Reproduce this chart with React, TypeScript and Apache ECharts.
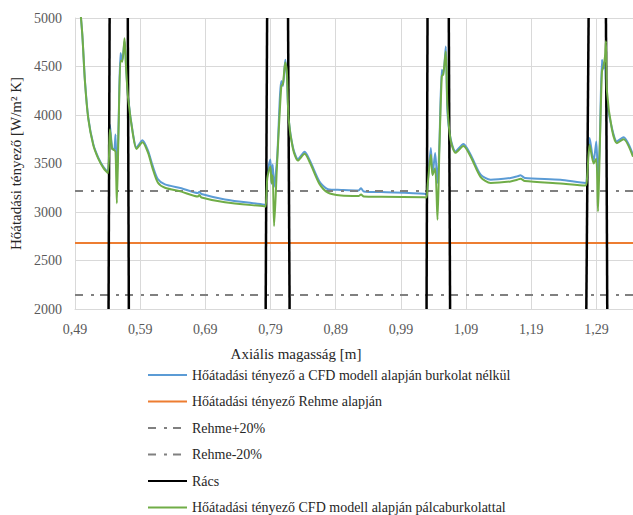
import React, { useEffect, useRef } from "react";
import * as echarts from "echarts";

const xMin = 0.49;
const xMax = 1.346;
const yMin = 2000;
const yMax = 5000;

// Axial positions [m]
const cfdX = [
  0.49, 0.496, 0.5012, 0.5053, 0.5104, 0.518, 0.5257, 0.5335, 0.5405, 0.5435, 0.547, 0.55, 0.5522, 0.5542,
  0.557, 0.5598, 0.5625, 0.566, 0.5685, 0.5715, 0.5791, 0.5843, 0.5935, 0.6021, 0.609, 0.617, 0.628,
  0.6532, 0.6786, 0.6807, 0.684, 0.72, 0.7805,
  0.7825, 0.785, 0.7897, 0.7915, 0.7933, 0.7954, 0.8, 0.8065, 0.809, 0.8126, 0.815, 0.8177, 0.8244, 0.832,
  0.8422, 0.851, 0.865, 0.8779, 0.8983, 0.925, 0.9288, 0.933, 0.96, 1.0256, 1.0293,
  1.031, 1.0359, 1.0385, 1.0425, 1.0461, 1.049, 1.0527, 1.055, 1.0588, 1.0613, 1.066, 1.0737, 1.0858,
  1.097, 1.1123, 1.1276, 1.1582, 1.1684, 1.1735, 1.18, 1.2347, 1.2729,
  1.2755, 1.2795, 1.2856, 1.2897, 1.2923, 1.295, 1.2984, 1.3005, 1.303, 1.3045, 1.306, 1.3137, 1.3213,
  1.3315, 1.346,
];

// Heat transfer coefficient, CFD without cladding [W/m2K]
const cfdNoCladding = [
  5700, 5250, 4830, 4350, 3970, 3700, 3560, 3465, 3410, 3900, 3660, 3640, 3800, 3320,
  3950, 4640, 4560, 4760, 4480, 4180, 3800, 3665, 3740, 3630, 3480, 3340, 3285,
  3245, 3195, 3208, 3185, 3130, 3075,
  3070, 3400, 3540, 3290, 3490, 3260, 3550, 4350, 4300, 4570, 4400, 3970, 3665, 3545,
  3620, 3520, 3315, 3235, 3228, 3222, 3245, 3212, 3205, 3189, 3182,
  3300, 3660, 3385, 3608, 3300, 3700, 4467, 4420, 4707, 4040, 3763, 3625, 3701,
  3591, 3385, 3333, 3351, 3367, 3378, 3351, 3333, 3299,
  3400, 3763, 3522, 3728, 3350, 3700, 4570, 4480, 4520, 4300, 4140, 3866, 3728,
  3770, 3591,
];

// Heat transfer coefficient, CFD with rod cladding [W/m2K]
const cfdRodCladding = [
  5700, 5250, 4830, 4340, 3960, 3690, 3550, 3455, 3400, 3850, 3650, 3640, 3620, 3090,
  3900, 4560, 4550, 4790, 4470, 4170, 3790, 3650, 3720, 3610, 3450, 3305, 3250,
  3210, 3160, 3175, 3150, 3100, 3058,
  3055, 3350, 3470, 3300, 3380, 2855, 3500, 4300, 4320, 4540, 4450, 3960, 3650, 3530,
  3600, 3500, 3290, 3200, 3170, 3165, 3180, 3160, 3157, 3151, 3150,
  3280, 3590, 3380, 3450, 2920, 3650, 4400, 4420, 4655, 4100, 3750, 3610, 3680,
  3570, 3360, 3300, 3315, 3333, 3342, 3320, 3295, 3274,
  3350, 3694, 3500, 3550, 3006, 3650, 4450, 4500, 4600, 4760, 4250, 3850, 3710,
  3750, 3570,
];

const rehmeValue = 2680;
const rehmeFactors = [1.2, 0.8];

// Spacer grid ("Rács") edges, bottom and top x positions
const spacerBottomX = [0.5415, 0.5726, 0.7825, 0.8192, 1.0293, 1.0654, 1.2744, 1.3065];
const spacerTopX = [0.5431, 0.571, 0.7847, 0.8168, 1.0308, 1.0634, 1.2779, 1.3045];

const names = [
  "Hőátadási tényező a CFD modell alapján burkolat nélkül",
  "Hőátadási tényező Rehme alapján",
  "Rehme+20%",
  "Rehme-20%",
  "Rács",
  "Hőátadási tényező CFD modell alapján pálcaburkolattal",
];

const FONT = "Liberation Serif";

export default function App() {
  const ref = useRef<HTMLDivElement>(null);
  useEffect(() => {
    if (!ref.current) return;
    const chart = echarts.init(ref.current, null, { renderer: "svg" });
    const zip = (ys: number[]) => cfdX.map((x, i) => [x, ys[i]]);
    const flat = (v: number) => [
      [xMin, v],
      [xMax, v],
    ];
    const dashDot = [8, 8, 3, 6];
    const series: any[] = [
      {
        name: names[0],
        type: "line",
        data: zip(cfdNoCladding),
        symbol: "none",
        smooth: 0.25,
        lineStyle: { color: "#5B9BD5", width: 2 },
        itemStyle: { color: "#5B9BD5" },
      },
      {
        name: names[1],
        type: "line",
        data: flat(rehmeValue),
        symbol: "none",
        lineStyle: { color: "#ED7D31", width: 2 },
        itemStyle: { color: "#ED7D31" },
      },
      {
        name: names[2],
        type: "line",
        data: flat(rehmeValue * rehmeFactors[0]),
        symbol: "none",
        lineStyle: { color: "#808080", width: 2, type: dashDot },
        itemStyle: { color: "#808080" },
      },
      {
        name: names[3],
        type: "line",
        data: flat(rehmeValue * rehmeFactors[1]),
        symbol: "none",
        lineStyle: { color: "#808080", width: 2, type: dashDot },
        itemStyle: { color: "#808080" },
      },
    ];
    spacerBottomX.forEach((xb, i) => {
      series.push({
        name: names[4],
        type: "line",
        data: [
          [xb, yMin],
          [spacerTopX[i], yMax],
        ],
        symbol: "none",
        lineStyle: { color: "#000000", width: 2.5 },
        itemStyle: { color: "#000000" },
      });
    });
    series.push({
      name: names[5],
      type: "line",
      data: zip(cfdRodCladding),
      symbol: "none",
      smooth: 0.25,
      lineStyle: { color: "#70AD47", width: 2 },
      itemStyle: { color: "#70AD47" },
    });

    chart.setOption({
      animation: false,
      textStyle: { fontFamily: FONT },
      grid: { left: 73, top: 18, right: 0, bottom: 206, containLabel: false },
      xAxis: {
        type: "value",
        min: xMin,
        max: xMax,
        interval: 0.1,
        axisLine: { show: true, lineStyle: { color: "#D9D9D9", width: 1 } },
        axisTick: { show: false },
        splitLine: { show: true, lineStyle: { color: "#D9D9D9", width: 1 } },
        axisLabel: {
          color: "#595959",
          fontFamily: FONT,
          fontSize: 14,
          margin: 13,
          showMaxLabel: false,
          formatter: (v: number) => v.toFixed(2).replace(".", ","),
        },
      },
      yAxis: {
        type: "value",
        min: yMin,
        max: yMax,
        interval: 500,
        name: "Hőátadási tényező [W/m² K]",
        nameLocation: "middle",
        nameGap: 52,
        nameRotate: 90,
        nameTextStyle: { color: "#262626", fontFamily: FONT, fontSize: 15 },
        axisLine: { show: true, lineStyle: { color: "#D9D9D9", width: 1 } },
        axisTick: { show: false },
        splitLine: { show: true, lineStyle: { color: "#D9D9D9", width: 1 } },
        axisLabel: {
          color: "#595959",
          fontFamily: FONT,
          fontSize: 14,
          margin: 13,
          formatter: (v: number) => String(v),
        },
      },
      legend: {
        data: names,
        orient: "vertical",
        left: 147,
        top: 368,
        height: 200,
        padding: 0,
        itemWidth: 39,
        itemHeight: 14,
        itemGap: 12.5,
        itemStyle: { opacity: 0, color: "rgba(0,0,0,0)", borderWidth: 0 },
        textStyle: { color: "#262626", fontFamily: FONT, fontSize: 14 },
      },
      graphic: [
        {
          type: "text",
          x: 296,
          y: 354,
          style: {
            text: "Axiális magasság [m]",
            fill: "#262626",
            font: `15px "${FONT}"`,
            textAlign: "center",
            textVerticalAlign: "middle",
          },
        },
      ],
      series,
    });
    return () => chart.dispose();
  }, []);
  return (
    <div
      ref={ref}
      style={{ position: "absolute", left: 0, top: 0, width: 633, height: 515, background: "#fff" }}
    />
  );
}
